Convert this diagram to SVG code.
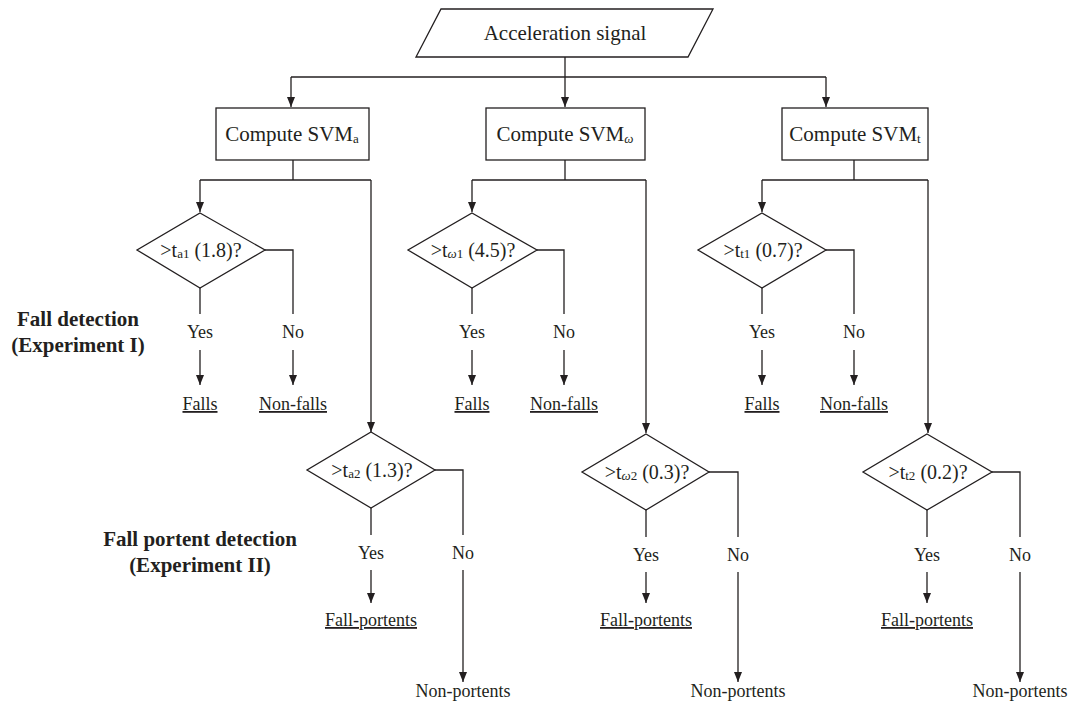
<svg xmlns="http://www.w3.org/2000/svg" width="1073" height="701" viewBox="0 0 1073 701">
<style>
.s{fill:none;stroke:#231f20;stroke-width:1.3}
.n{fill:#fff;stroke:#231f20;stroke-width:1.3}
text{font-family:"Liberation Serif","Times New Roman",serif;fill:#231f20;text-anchor:middle}
.t{font-size:21px}
.d{font-size:20px}
.l{font-size:18px}
.u{font-size:18px;text-decoration:underline}
.b{font-size:21px;font-weight:bold}
.sub{font-size:13px}
</style>
<defs>
<marker id="ah" markerUnits="userSpaceOnUse" markerWidth="10" markerHeight="10" refX="10" refY="4" orient="auto">
<path d="M0,0 L10,4 L0,8 z" fill="#231f20"/>
</marker>
</defs>
<g id="connectors">
<path class="s" d="M565,57 V107" marker-end="url(#ah)"/>
<path class="s" d="M291,77 H826"/>
<path class="s" d="M291,77 V107" marker-end="url(#ah)"/>
<path class="s" d="M826,77 V107" marker-end="url(#ah)"/>
<path class="s" d="M293,160 V180 M200,180 H371"/>
<path class="s" d="M200,180 V212" marker-end="url(#ah)"/>
<path class="s" d="M371,180 V432" marker-end="url(#ah)"/>
<path class="s" d="M565,160 V180 M472,180 H646"/>
<path class="s" d="M472,180 V212" marker-end="url(#ah)"/>
<path class="s" d="M646,180 V433" marker-end="url(#ah)"/>
<path class="s" d="M854,160 V180 M762,180 H928"/>
<path class="s" d="M762,180 V212" marker-end="url(#ah)"/>
<path class="s" d="M928,180 V433" marker-end="url(#ah)"/>
<path class="s" d="M200,288 V314 M265,250 H293 V314"/>
<path class="s" d="M200,350 V385" marker-end="url(#ah)"/>
<path class="s" d="M293,350 V385" marker-end="url(#ah)"/>
<path class="s" d="M472,288 V314 M537,250 H564 V314"/>
<path class="s" d="M472,350 V385" marker-end="url(#ah)"/>
<path class="s" d="M564,350 V385" marker-end="url(#ah)"/>
<path class="s" d="M762,288 V314 M826,250 H854 V314"/>
<path class="s" d="M762,350 V385" marker-end="url(#ah)"/>
<path class="s" d="M854,350 V385" marker-end="url(#ah)"/>
<path class="s" d="M371,508 V535 M435,470 H463 V535"/>
<path class="s" d="M371,570 V603" marker-end="url(#ah)"/>
<path class="s" d="M463,570 V682" marker-end="url(#ah)"/>
<path class="s" d="M646,510 V537 M709,472 H738 V537"/>
<path class="s" d="M646,572 V603" marker-end="url(#ah)"/>
<path class="s" d="M738,572 V682" marker-end="url(#ah)"/>
<path class="s" d="M927,510 V537 M992,472 H1020 V537"/>
<path class="s" d="M927,572 V603" marker-end="url(#ah)"/>
<path class="s" d="M1020,572 V682" marker-end="url(#ah)"/>
</g>
<g id="input">
<polygon class="n" points="441,9 713,9 688,57 416,57"/>
<text class="t" x="565" y="40">Acceleration signal</text>
</g>
<g id="svm-a">
<rect class="n" x="216" y="108" width="153" height="52"/>
<text class="t" x="292" y="141">Compute SVM<tspan class="sub" dy="2">a</tspan></text>
</g>
<g id="svm-w">
<rect class="n" x="486" y="108" width="159" height="52"/>
<text class="t" x="565" y="141">Compute SVM<tspan class="sub" dy="2" font-style="italic">ω</tspan></text>
</g>
<g id="svm-t">
<rect class="n" x="782" y="108" width="146" height="52"/>
<text class="t" x="855" y="141">Compute SVM<tspan class="sub" dy="2">t</tspan></text>
</g>
<g id="dec-a1">
<polygon class="n" points="200,213 265,250 200,288 137,250"/>
<text class="d" x="201" y="257">&gt;t<tspan class="sub" dy="1">a1</tspan><tspan dy="-1"> (1.8)?</tspan></text>
</g>
<g id="dec-w1">
<polygon class="n" points="472,213 537,250 472,288 408,250"/>
<text class="d" x="473" y="257">&gt;t<tspan class="sub" dy="1"><tspan font-style="italic">ω</tspan>1</tspan><tspan dy="-1"> (4.5)?</tspan></text>
</g>
<g id="dec-t1">
<polygon class="n" points="762,213 826,250 762,288 698,250"/>
<text class="d" x="763" y="257">&gt;t<tspan class="sub" dy="1">t1</tspan><tspan dy="-1"> (0.7)?</tspan></text>
</g>
<g id="dec-a2">
<polygon class="n" points="371,432 435,470 371,508 307,470"/>
<text class="d" x="372" y="477">&gt;t<tspan class="sub" dy="1">a2</tspan><tspan dy="-1"> (1.3)?</tspan></text>
</g>
<g id="dec-w2">
<polygon class="n" points="646,434 709,472 646,510 582,472"/>
<text class="d" x="647" y="479">&gt;t<tspan class="sub" dy="1"><tspan font-style="italic">ω</tspan>2</tspan><tspan dy="-1"> (0.3)?</tspan></text>
</g>
<g id="dec-t2">
<polygon class="n" points="927,434 992,472 927,510 863,472"/>
<text class="d" x="928" y="479">&gt;t<tspan class="sub" dy="1">t2</tspan><tspan dy="-1"> (0.2)?</tspan></text>
</g>
<g id="labels">
<text class="l" x="200" y="338">Yes</text>
<text class="l" x="293" y="338">No</text>
<text class="l" x="472" y="338">Yes</text>
<text class="l" x="564" y="338">No</text>
<text class="l" x="762" y="338">Yes</text>
<text class="l" x="854" y="338">No</text>
<text class="l" x="371" y="559">Yes</text>
<text class="l" x="463" y="559">No</text>
<text class="l" x="646" y="561">Yes</text>
<text class="l" x="738" y="561">No</text>
<text class="l" x="927" y="561">Yes</text>
<text class="l" x="1020" y="561">No</text>
</g>
<g id="outcomes">
<text class="u" x="200" y="410">Falls</text>
<text class="u" x="293" y="410">Non-falls</text>
<text class="u" x="472" y="410">Falls</text>
<text class="u" x="564" y="410">Non-falls</text>
<text class="u" x="762" y="410">Falls</text>
<text class="u" x="854" y="410">Non-falls</text>
<text class="u" x="371" y="626">Fall-portents</text>
<text class="u" x="646" y="626">Fall-portents</text>
<text class="u" x="927" y="626">Fall-portents</text>
<text class="l" x="463" y="697">Non-portents</text>
<text class="l" x="738" y="697">Non-portents</text>
<text class="l" x="1020" y="697">Non-portents</text>
</g>
<g id="experiment-labels">
<text class="b" x="78" y="326">Fall detection</text>
<text class="b" x="78" y="352">(Experiment I)</text>
<text class="b" x="200" y="546">Fall portent detection</text>
<text class="b" x="200" y="572">(Experiment II)</text>
</g>
</svg>
